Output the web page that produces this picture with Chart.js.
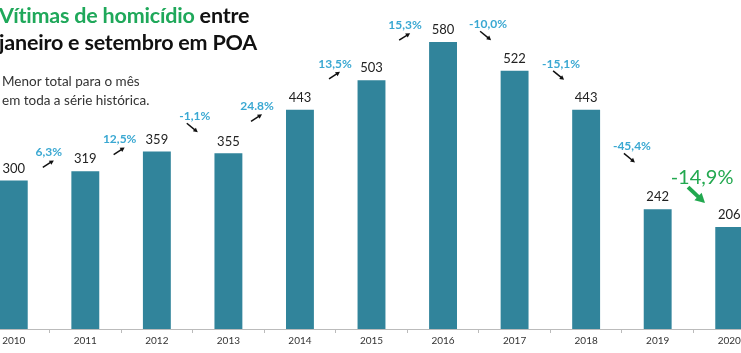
<!DOCTYPE html>
<html>
<head>
<meta charset="utf-8">
<script src="https://cdn.jsdelivr.net/npm/chart.js@4.4.0/dist/chart.umd.min.js"></script>
<style>
  html, body { margin: 0; padding: 0; background: #fff; overflow: hidden; }
  body { width: 741px; height: 353px; position: relative; font-family: Lato, "Open Sans", sans-serif; }
  #wrap { position: absolute; left: -22px; top: 0; width: 787px; height: 353px; }
  .title { position: absolute; left: -1px; top: 2px; font-size: 21.5px; font-weight: bold; line-height: 27px; color: #111; letter-spacing: -0.2px; }
  .title .green { color: #1fa85a; }
  .sub { position: absolute; left: 2px; top: 72px; font-size: 13.5px; line-height: 19px; color: #333; }
</style>
</head>
<body>
<div id="wrap"><canvas id="chart" width="787" height="353"></canvas></div>
<div class="title"><span class="green">Vítimas de homicídio</span> entre<br>janeiro e setembro em POA</div>
<div class="sub">Menor total para o mês<br>em toda a série histórica.</div>
<script>
// data
const years = ["2010", "2011", "2012", "2013", "2014", "2015", "2016", "2017", "2018", "2019", "2020"];
const victims = [300, 319, 359, 355, 443, 503, 580, 522, 443, 242, 206];
const changes = ["6,3%", "12,5%", "-1,1%", "24.8%", "13,5%", "15,3%", "-10,0%", "-15,1%", "-45,4%", "-14,9%"];

// where the change notes sit (category index, value level)
const changeAt = [0.49, 1.48, 2.53, 3.40, 4.49, 5.47, 6.63, 7.65, 8.64, 9.62];
const changeLevel = [357, 383, 430, 450, 536, 614, 616, 536, 369, 307];

const barColor = "#31849b";
const cyan = "#3aa8d2";
const green = "#22a84f";

function arrow(ctx, x1, y1, x2, y2, color, width, head) {
  const a = Math.atan2(y2 - y1, x2 - x1);
  ctx.save();
  ctx.strokeStyle = color;
  ctx.fillStyle = color;
  ctx.lineWidth = width;
  ctx.beginPath();
  ctx.moveTo(x1, y1);
  ctx.lineTo(x2 - Math.cos(a) * head * 0.6, y2 - Math.sin(a) * head * 0.6);
  ctx.stroke();
  ctx.beginPath();
  ctx.moveTo(x2, y2);
  ctx.lineTo(x2 - head * Math.cos(a - 0.5), y2 - head * Math.sin(a - 0.5));
  ctx.lineTo(x2 - head * Math.cos(a + 0.5), y2 - head * Math.sin(a + 0.5));
  ctx.closePath();
  ctx.fill();
  ctx.restore();
}

const labelsPlugin = {
  id: "labels",
  afterDatasetsDraw(chart) {
    const ctx = chart.ctx;
    const xs = chart.scales.x;
    const ys = chart.scales.y;
    const meta = chart.getDatasetMeta(0);
    ctx.save();
    ctx.textAlign = "center";
    ctx.textBaseline = "middle";

    // values over bars
    ctx.font = "13px Lato, sans-serif";
    ctx.fillStyle = "#222";
    meta.data.forEach((bar, i) => {
      ctx.fillText(String(victims[i]), bar.x, bar.y - 12);
    });

    // change notes
    changes.forEach((txt, i) => {
      const cx = xs.getPixelForValue(changeAt[i]);
      const cy = ys.getPixelForValue(changeLevel[i]);
      const up = victims[i + 1] > victims[i];
      const last = i === changes.length - 1;
      if (last) {
        ctx.font = "20px Lato, sans-serif";
        ctx.fillStyle = green;
        ctx.fillText(txt, cx, cy);
        arrow(ctx, cx - 14, cy + 10, cx + 3, cy + 26, green, 4, 11);
      } else {
        ctx.font = "bold 12px Lato, sans-serif";
        ctx.fillStyle = cyan;
        ctx.fillText(txt, cx, cy);
        if (up) {
          arrow(ctx, cx - 6, cy + 15, cx + 5, cy + 8, "#111", 1.5, 5);
        } else {
          arrow(ctx, cx - 8, cy + 7, cx + 3, cy + 16, "#111", 1.5, 5);
        }
      }
    });
    ctx.restore();
  }
};

new Chart(document.getElementById("chart").getContext("2d"), {
  type: "bar",
  data: {
    labels: years,
    datasets: [
      {
        data: victims,
        backgroundColor: barColor,
        categoryPercentage: 1,
        barPercentage: 0.39,
      },
    ],
  },
  options: {
    responsive: false,
    animation: false,
    layout: { padding: { left: 0, right: 0, top: 0, bottom: 4 } },
    plugins: {
      legend: { display: false },
      tooltip: { enabled: false },
    },
    scales: {
      x: {
        grid: {
          offset: true,
          drawOnChartArea: false,
          drawTicks: true,
          tickLength: 4,
          color: "#bbb",
        },
        border: { color: "#bbb" },
        ticks: {
          padding: 2,
          color: "#333",
          font: { size: 10, family: "Lato, sans-serif" },
          maxRotation: 0,
        },
      },
      y: {
        display: false,
        min: 0,
        max: 665,
      },
    },
  },
  plugins: [labelsPlugin],
});
</script>
</body>
</html>
